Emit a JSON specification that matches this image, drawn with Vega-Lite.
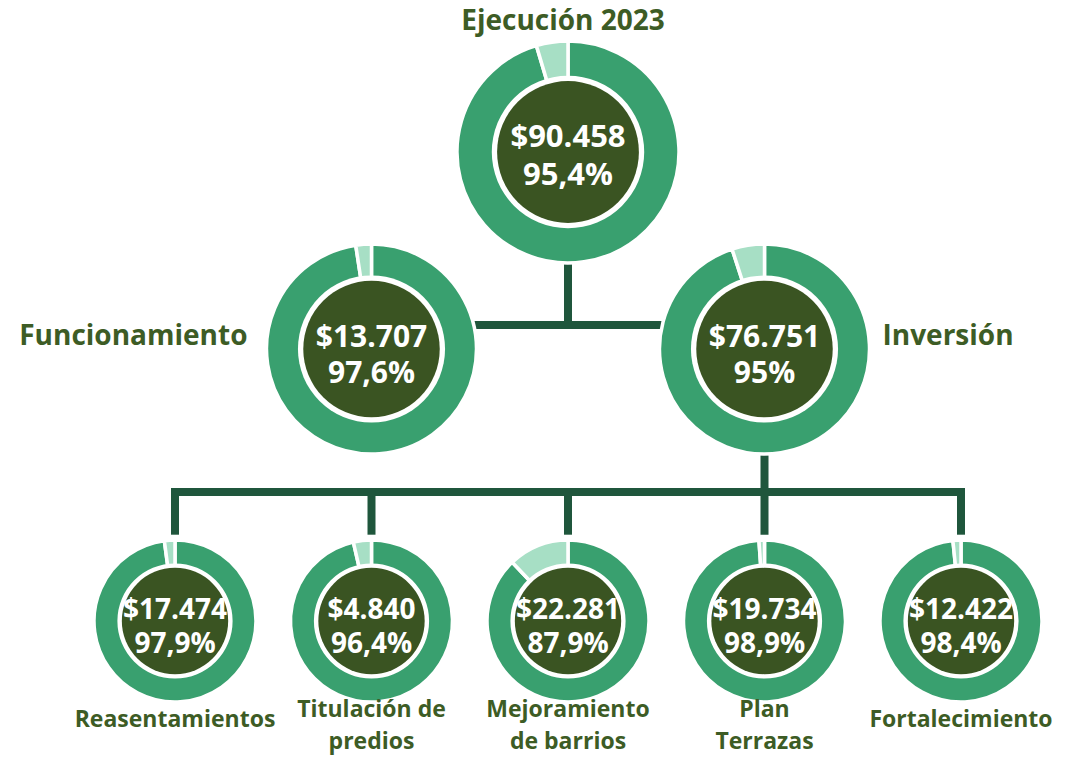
{
  "$schema": "https://vega.github.io/schema/vega-lite/v6.json",
  "width": 1073,
  "height": 757,
  "autosize": {"type": "fit", "contains": "padding"},
  "padding": 0,
  "background": "white",
  "config": {
    "view": {"stroke": null},
    "axis": {"disable": true},
    "locale": {"number": {"decimal": ",", "thousands": ".", "grouping": [3], "currency": ["$", ""]}}
  },
  "datasets": {
    "nodos": [
      {"nombre": "Ejecución 2023", "etiqueta": "Ejecución 2023", "slot": 2, "nivel": 0, "monto": 90458, "ejecucion": 0.954, "pendiente": 0.046},
      {"nombre": "Funcionamiento", "etiqueta": "Funcionamiento", "slot": 1, "nivel": 1, "monto": 13707, "ejecucion": 0.976, "pendiente": 0.024},
      {"nombre": "Inversión", "etiqueta": "Inversión", "slot": 3, "nivel": 1, "monto": 76751, "ejecucion": 0.95, "pendiente": 0.05},
      {"nombre": "Reasentamientos", "etiqueta": "Reasentamientos", "slot": 0, "nivel": 2, "monto": 17474, "ejecucion": 0.979, "pendiente": 0.021},
      {"nombre": "Titulación de predios", "etiqueta": "Titulación de\npredios", "slot": 1, "nivel": 2, "monto": 4840, "ejecucion": 0.964, "pendiente": 0.036},
      {"nombre": "Mejoramiento de barrios", "etiqueta": "Mejoramiento\nde barrios", "slot": 2, "nivel": 2, "monto": 22281, "ejecucion": 0.879, "pendiente": 0.121},
      {"nombre": "Plan Terrazas", "etiqueta": "Plan\nTerrazas", "slot": 3, "nivel": 2, "monto": 19734, "ejecucion": 0.989, "pendiente": 0.011},
      {"nombre": "Fortalecimiento", "etiqueta": "Fortalecimiento", "slot": 4, "nivel": 2, "monto": 12422, "ejecucion": 0.984, "pendiente": 0.016}
    ],
    "aristas": [
      {"x": 2, "x2": 2, "y": 0, "y2": 0.5},
      {"x": 1, "x2": 3, "y": 0.5, "y2": 0.5},
      {"x": 3, "x2": 3, "y": 1, "y2": 1.65},
      {"x": 0, "x2": 4, "y": 1.5, "y2": 1.5},
      {"x": 0, "x2": 0, "y": 1.5, "y2": 1.65},
      {"x": 1, "x2": 1, "y": 1.5, "y2": 1.65},
      {"x": 2, "x2": 2, "y": 1.5, "y2": 1.65},
      {"x": 4, "x2": 4, "y": 1.5, "y2": 1.65}
    ]
  },
  "layer": [
    {
      "data": {"name": "aristas"},
      "mark": {"type": "rule", "stroke": "#1f563c", "strokeWidth": 8, "strokeCap": "square"},
      "encoding": {
        "x": {"field": "x", "type": "quantitative", "scale": {"domain": [0, 4], "range": [175, 961], "nice": false, "zero": false}, "axis": null},
        "x2": {"field": "x2"},
        "y": {"field": "y", "type": "quantitative", "scale": {"domain": [0, 0.5, 1, 1.5, 2], "range": [152, 325, 349, 492, 621], "nice": false, "zero": false}, "axis": null},
        "y2": {"field": "y2"}
      }
    },
    {
      "data": {"name": "nodos"},
      "transform": [{"filter": "datum.nivel === 0"}],
      "encoding": {
        "x": {"field": "slot", "type": "quantitative", "axis": null},
        "y": {"field": "nivel", "type": "quantitative", "axis": null}
      },
      "layer": [
        {
          "transform": [
            {"fold": ["ejecucion", "pendiente"], "as": ["tramo", "valor"]},
            {"stack": "valor", "groupby": ["nombre"], "sort": [{"field": "tramo", "order": "ascending"}], "offset": "normalize", "as": ["t0", "t1"]}
          ],
          "mark": {"type": "arc", "stroke": "white", "strokeWidth": 3.5, "radius": 111, "radius2": 0},
          "encoding": {
            "theta": {"field": "t0", "type": "quantitative", "stack": null, "scale": {"domain": [0, 1], "range": [0, 6.283185307179586]}},
            "theta2": {"field": "t1"},
            "color": {"field": "tramo", "type": "nominal", "scale": {"domain": ["ejecucion", "pendiente"], "range": ["#39a06f", "#a7dfc5"]}, "legend": null}
          }
        },
        {"mark": {"type": "circle", "color": "white", "opacity": 1, "size": 23235}},
        {"mark": {"type": "circle", "color": "#3a5422", "opacity": 1, "size": 20106}},
        {
          "mark": {"type": "text", "font": "Open Sans", "fontWeight": "bold", "color": "white", "fontSize": 31, "align": "center", "baseline": "alphabetic", "dy": -5},
          "encoding": {"text": {"field": "monto", "type": "quantitative", "format": "$,.0f"}}
        },
        {
          "mark": {"type": "text", "font": "Open Sans", "fontWeight": "bold", "color": "white", "fontSize": 31, "align": "center", "baseline": "alphabetic", "dy": 33},
          "encoding": {"text": {"field": "ejecucion", "type": "quantitative", "format": ".1~%"}}
        },
        {
          "mark": {"type": "text", "font": "Open Sans", "fontWeight": "bold", "color": "#3d5c25", "fontSize": 28, "align": "center", "baseline": "alphabetic", "dy": -122, "dx": -5},
          "encoding": {"text": {"field": "etiqueta"}}
        }
      ]
    },
    {
      "data": {"name": "nodos"},
      "transform": [{"filter": "datum.nivel === 1"}],
      "encoding": {
        "x": {"field": "slot", "type": "quantitative", "axis": null},
        "y": {"field": "nivel", "type": "quantitative", "axis": null}
      },
      "layer": [
        {
          "transform": [
            {"fold": ["ejecucion", "pendiente"], "as": ["tramo", "valor"]},
            {"stack": "valor", "groupby": ["nombre"], "sort": [{"field": "tramo", "order": "ascending"}], "offset": "normalize", "as": ["t0", "t1"]}
          ],
          "mark": {"type": "arc", "stroke": "white", "strokeWidth": 3.5, "radius": 105, "radius2": 0},
          "encoding": {
            "theta": {"field": "t0", "type": "quantitative", "stack": null, "scale": {"domain": [0, 1], "range": [0, 6.283185307179586]}},
            "theta2": {"field": "t1"},
            "color": {"field": "tramo", "type": "nominal", "scale": {"domain": ["ejecucion", "pendiente"], "range": ["#39a06f", "#a7dfc5"]}, "legend": null}
          }
        },
        {"mark": {"type": "circle", "color": "white", "opacity": 1, "size": 21642}},
        {"mark": {"type": "circle", "color": "#3a5422", "opacity": 1, "size": 18627}},
        {
          "mark": {"type": "text", "font": "Open Sans", "fontWeight": "bold", "color": "white", "fontSize": 30, "align": "center", "baseline": "alphabetic", "dy": -2},
          "encoding": {"text": {"field": "monto", "type": "quantitative", "format": "$,.0f"}}
        },
        {
          "mark": {"type": "text", "font": "Open Sans", "fontWeight": "bold", "color": "white", "fontSize": 30, "align": "center", "baseline": "alphabetic", "dy": 34},
          "encoding": {"text": {"field": "ejecucion", "type": "quantitative", "format": ".1~%"}}
        }
      ]
    },
    {
      "data": {"name": "nodos"},
      "transform": [{"filter": "datum.nivel === 2"}],
      "encoding": {
        "x": {"field": "slot", "type": "quantitative", "axis": null},
        "y": {"field": "nivel", "type": "quantitative", "axis": null}
      },
      "layer": [
        {
          "transform": [
            {"fold": ["ejecucion", "pendiente"], "as": ["tramo", "valor"]},
            {"stack": "valor", "groupby": ["nombre"], "sort": [{"field": "tramo", "order": "ascending"}], "offset": "normalize", "as": ["t0", "t1"]}
          ],
          "mark": {"type": "arc", "stroke": "white", "strokeWidth": 3.5, "radius": 81, "radius2": 0},
          "encoding": {
            "theta": {"field": "t0", "type": "quantitative", "stack": null, "scale": {"domain": [0, 1], "range": [0, 6.283185307179586]}},
            "theta2": {"field": "t1"},
            "color": {"field": "tramo", "type": "nominal", "scale": {"domain": ["ejecucion", "pendiente"], "range": ["#39a06f", "#a7dfc5"]}, "legend": null}
          }
        },
        {"mark": {"type": "circle", "color": "white", "opacity": 1, "size": 13273}},
        {"mark": {"type": "circle", "color": "#3a5422", "opacity": 1, "size": 11310}},
        {
          "mark": {"type": "text", "font": "Open Sans", "fontWeight": "bold", "color": "white", "fontSize": 28, "align": "center", "baseline": "alphabetic", "dy": -2},
          "encoding": {"text": {"field": "monto", "type": "quantitative", "format": "$,.0f"}}
        },
        {
          "mark": {"type": "text", "font": "Open Sans", "fontWeight": "bold", "color": "white", "fontSize": 28, "align": "center", "baseline": "alphabetic", "dy": 32},
          "encoding": {"text": {"field": "ejecucion", "type": "quantitative", "format": ".1~%"}}
        },
        {
          "transform": [{"filter": "datum.nombre === 'Reasentamientos' || datum.nombre === 'Fortalecimiento'"}],
          "mark": {"type": "text", "font": "Open Sans", "fontWeight": "bold", "color": "#3d5c25", "fontSize": 23, "align": "center", "baseline": "alphabetic", "dy": 106},
          "encoding": {"text": {"field": "etiqueta"}}
        },
        {
          "transform": [{"filter": "datum.nombre !== 'Reasentamientos' && datum.nombre !== 'Fortalecimiento'"}],
          "mark": {"type": "text", "font": "Open Sans", "fontWeight": "bold", "color": "#3d5c25", "fontSize": 23, "lineHeight": 32, "lineBreak": "\n", "align": "center", "baseline": "alphabetic", "dy": 96},
          "encoding": {"text": {"field": "etiqueta"}}
        }
      ]
    },
    {
      "data": {"name": "nodos"},
      "transform": [{"filter": "datum.nombre === 'Funcionamiento'"}],
      "mark": {"type": "text", "font": "Open Sans", "fontWeight": "bold", "color": "#3d5c25", "fontSize": 28, "align": "right", "baseline": "alphabetic", "dy": -4, "dx": -124},
      "encoding": {
        "x": {"field": "slot", "type": "quantitative", "axis": null},
        "y": {"field": "nivel", "type": "quantitative", "axis": null},
        "text": {"field": "etiqueta"}
      }
    },
    {
      "data": {"name": "nodos"},
      "transform": [{"filter": "datum.nombre === 'Inversión'"}],
      "mark": {"type": "text", "font": "Open Sans", "fontWeight": "bold", "color": "#3d5c25", "fontSize": 28, "align": "left", "baseline": "alphabetic", "dy": -4, "dx": 118},
      "encoding": {
        "x": {"field": "slot", "type": "quantitative", "axis": null},
        "y": {"field": "nivel", "type": "quantitative", "axis": null},
        "text": {"field": "etiqueta"}
      }
    }
  ]
}
